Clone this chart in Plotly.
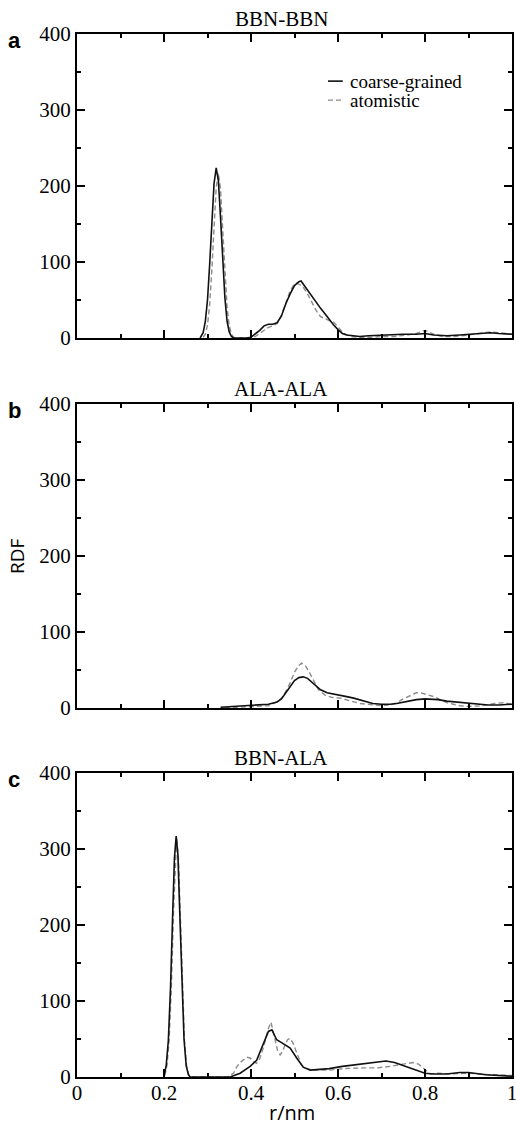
import plotly.graph_objects as go

# ---------------- data ----------------
panel_titles = ["BBN-BBN", "ALA-ALA", "BBN-ALA"]
panel_letters = ["a", "b", "c"]
x_tick_vals = [0, 0.2, 0.4, 0.6, 0.8, 1]
y_tick_vals = [0, 100, 200, 300, 400]

# panel a: BBN-BBN
a_cg_r = [0.283, 0.29, 0.295, 0.30, 0.305, 0.31, 0.315, 0.32, 0.325, 0.33,
          0.335, 0.34, 0.345, 0.35, 0.355, 0.36, 0.37, 0.38, 0.39, 0.40,
          0.41, 0.42, 0.43, 0.44, 0.45, 0.46, 0.47, 0.48, 0.49, 0.50,
          0.51, 0.515, 0.52, 0.53, 0.54, 0.55, 0.56, 0.57, 0.58, 0.59,
          0.60, 0.61, 0.62, 0.635, 0.65, 0.67, 0.70, 0.72, 0.75, 0.78,
          0.80, 0.82, 0.85, 0.88, 0.90, 0.93, 0.95, 0.97, 1.0]
a_cg_g = [0, 7, 22, 50, 97, 153, 203, 224, 207, 158,
          100, 53, 22, 8, 2, 0, 0, 0, 0, 1,
          5, 10, 16, 18, 18, 20, 29, 45, 58, 69,
          74, 75, 71, 63, 54, 46, 39, 32, 24, 17,
          11, 6, 4, 3, 2, 3, 4, 4, 5, 5,
          6, 4, 3, 4, 5, 6, 7, 6, 5]
a_at_r = [0.29, 0.295, 0.30, 0.305, 0.31, 0.315, 0.32, 0.325, 0.33, 0.335,
          0.34, 0.345, 0.35, 0.355, 0.36, 0.365, 0.38, 0.40, 0.41, 0.42,
          0.43, 0.44, 0.45, 0.46, 0.47, 0.48, 0.49, 0.50, 0.505, 0.51,
          0.52, 0.53, 0.54, 0.55, 0.56, 0.57, 0.58, 0.59, 0.60, 0.61,
          0.62, 0.63, 0.65, 0.68, 0.70, 0.73, 0.76, 0.78, 0.80, 0.82,
          0.84, 0.87, 0.90, 0.93, 0.95, 0.97, 1.0]
a_at_g = [1, 5, 17, 44, 90, 148, 198, 217, 196, 142,
          86, 41, 16, 5, 1, 0, 0, 0, 2, 6,
          11, 14, 16, 19, 30, 45, 62, 71, 72, 71,
          67, 58, 47, 36, 28, 25, 23, 21, 14, 8,
          4, 2, 1, 1, 2, 2, 4, 6, 10, 5,
          2, 2, 4, 6, 8, 7, 5]

# panel b: ALA-ALA
b_cg_r = [0.33, 0.36, 0.40, 0.44, 0.46, 0.47, 0.48, 0.49, 0.50, 0.51,
          0.52, 0.53, 0.54, 0.55, 0.56, 0.575, 0.59, 0.605, 0.62, 0.636,
          0.65, 0.666, 0.68, 0.70, 0.72, 0.735, 0.75, 0.766, 0.78, 0.80,
          0.83, 0.85, 0.87, 0.90, 0.92, 0.945, 0.97, 1.0]
b_cg_g = [1, 2, 4, 5, 8, 12, 20, 28, 36, 40,
          41, 39, 34, 28, 24, 20, 18, 17, 15, 13,
          11, 8, 6, 5, 5, 6, 8, 10, 11, 12,
          11, 9, 8, 6, 5, 4, 4, 5]
b_at_r = [0.34, 0.38, 0.42, 0.44, 0.46, 0.47, 0.48, 0.49, 0.50, 0.51,
          0.516, 0.525, 0.535, 0.545, 0.555, 0.57, 0.585, 0.605, 0.62, 0.636,
          0.65, 0.666, 0.68, 0.70, 0.72, 0.735, 0.75, 0.76, 0.77, 0.78,
          0.79, 0.805, 0.82, 0.835, 0.85, 0.865, 0.88, 0.90, 0.93, 0.96,
          0.98, 1.0]
b_at_g = [0, 1, 2, 3, 8, 13, 22, 33, 47, 56,
          59, 56, 46, 34, 24, 17, 14, 13, 11, 8,
          6, 5, 4, 3, 4, 7, 12, 15, 18, 20,
          20, 18, 15, 11, 7, 5, 3, 2, 3, 6,
          7, 5]

# panel c: BBN-ALA
c_cg_r = [0.20, 0.205, 0.21, 0.215, 0.22, 0.224, 0.228, 0.232, 0.236, 0.241,
          0.246, 0.251, 0.256, 0.26, 0.30, 0.34, 0.352, 0.375, 0.398, 0.413,
          0.428, 0.44, 0.448, 0.459, 0.474, 0.49, 0.505, 0.52, 0.536, 0.56,
          0.58, 0.61, 0.64, 0.67, 0.70, 0.71, 0.73, 0.75, 0.78, 0.80,
          0.82, 0.85, 0.88, 0.90, 0.94, 0.97, 1.0]
c_cg_g = [1, 15, 48, 118, 215, 288, 317, 292, 220, 122,
          50, 15, 3, 0, 0, 0, 0, 5, 14, 22,
          44, 60, 62, 49, 44, 38, 25, 13, 9, 10,
          11, 14, 16, 18, 20, 21, 19, 15, 10, 5,
          4, 4, 6, 6, 3, 2, 1]
c_at_r = [0.202, 0.207, 0.212, 0.217, 0.222, 0.226, 0.229, 0.233, 0.237, 0.242,
          0.247, 0.252, 0.257, 0.262, 0.30, 0.345, 0.36, 0.367, 0.375, 0.383,
          0.39, 0.398, 0.405, 0.413, 0.42, 0.428, 0.435, 0.44, 0.446, 0.45,
          0.455, 0.461, 0.467, 0.473, 0.478, 0.484, 0.49, 0.497, 0.503, 0.509,
          0.516, 0.524, 0.543, 0.56, 0.582, 0.612, 0.64, 0.66, 0.69, 0.72,
          0.75, 0.773, 0.785, 0.796, 0.812, 0.83, 0.86, 0.90, 0.95, 1.0]
c_at_g = [2, 16, 50, 120, 218, 288, 315, 290, 215, 118,
          48, 14, 3, 0, 0, 0, 5, 13, 19, 23,
          26, 25, 21, 18, 24, 38, 52, 64, 72, 62,
          46, 35, 29, 34, 42, 49, 51, 44, 35, 25,
          16, 12, 9, 9, 9, 11, 12, 12, 12, 14,
          17, 19, 17, 12, 4, 5, 4, 5, 3, 2]

series_names = ["coarse-grained", "atomistic"]

# ---------------- layout geometry ----------------
W, H = 516, 1130
ML, MR, MT, MB = 77, 4, 34, 53
PH = H - MT - MB
PW = W - ML - MR
panel_px = [(34, 338), (404, 708), (773, 1077)]  # top/bottom pixel rows


def ydom(top, bot):
    return [(H - MB - bot) / PH, (H - MB - top) / PH]


SERIF = "Liberation Serif"
SANS = "Open Sans"
CG_COLOR = "#111111"
AT_COLOR = "#8c8c8c"

fig = go.Figure()
data = [(a_cg_r, a_cg_g, a_at_r, a_at_g),
        (b_cg_r, b_cg_g, b_at_r, b_at_g),
        (c_cg_r, c_cg_g, c_at_r, c_at_g)]

for i, (cr, cg, ar, ag) in enumerate(data):
    k = "" if i == 0 else str(i + 1)
    fig.add_trace(go.Scatter(x=ar, y=ag, mode="lines", name=series_names[1],
                             line=dict(color=AT_COLOR, width=1.4, dash="5px,3px"),
                             xaxis="x" + k, yaxis="y" + k, showlegend=False))
    fig.add_trace(go.Scatter(x=cr, y=cg, mode="lines", name=series_names[0],
                             line=dict(color=CG_COLOR, width=1.6),
                             xaxis="x" + k, yaxis="y" + k, showlegend=False))

axis_common = dict(ticks="inside", tickwidth=2, tickcolor="black",
                   showline=True, linecolor="black", linewidth=2,
                   mirror="allticks", showgrid=False, zeroline=False,
                   automargin=False,
                   tickfont=dict(family=SERIF, size=21, color="black"))

layout = dict(width=W, height=H, margin=dict(l=ML, r=MR, t=MT, b=MB, autoexpand=False),
              paper_bgcolor="white", plot_bgcolor="white", showlegend=False)

for i, (top, bot) in enumerate(panel_px):
    k = "" if i == 0 else str(i + 1)
    layout["xaxis" + k] = dict(axis_common, domain=[0, 1], range=[0, 1],
                               tickvals=x_tick_vals, ticklen=8,
                               showticklabels=(i == 2),
                               ticklabeloverflow="allow",
                               ticklabelstandoff=-4,
                               minor=dict(dtick=0.1, ticks="inside", ticklen=4,
                                          tickwidth=1.5, tickcolor="black"),
                               anchor="y" + k)
    layout["yaxis" + k] = dict(axis_common, domain=ydom(top, bot), range=[0, 400],
                               tickvals=y_tick_vals, ticklen=8,
                               minor=dict(dtick=50, ticks="inside", ticklen=4,
                                          tickwidth=1.5, tickcolor="black"),
                               anchor="x" + k)

fig.update_layout(**layout)

ann = []
for i, (top, bot) in enumerate(panel_px):
    ann.append(dict(text=panel_titles[i], xref="paper", yref="paper",
                    x=(281 - ML) / PW, y=(H - MB - top) / PH, yshift=1,
                    xanchor="center", yanchor="bottom", showarrow=False,
                    font=dict(family=SERIF, size=21, color="black")))
    ann.append(dict(text="<b>" + panel_letters[i] + "</b>", xref="paper", yref="paper",
                    x=(6 - ML) / PW, y=(H - MB - top) / PH, yshift=-6,
                    xanchor="left", yanchor="middle", showarrow=False,
                    font=dict(family="Liberation Sans", size=22, color="black")))

ann.append(dict(text="RDF", xref="paper", yref="y2", x=(17 - ML) / PW, y=200,
                textangle=-90, xanchor="center", yanchor="middle", showarrow=False,
                font=dict(family=SANS, size=19, color="black")))
ann.append(dict(text="r/nm", xref="paper", yref="paper", x=(292 - ML) / PW,
                y=(H - MB - 1112) / PH, xanchor="center", yanchor="middle",
                showarrow=False, font=dict(family=SANS, size=20, color="black")))

# legend (panel a)
leg_y = [338, 313]
ann.append(dict(text=series_names[0], xref="x", yref="y", x=0.623, y=leg_y[0],
                xanchor="left", yanchor="middle", showarrow=False,
                font=dict(family=SERIF, size=19, color="black")))
ann.append(dict(text=series_names[1], xref="x", yref="y", x=0.623, y=leg_y[1],
                xanchor="left", yanchor="middle", showarrow=False,
                font=dict(family=SERIF, size=19, color="black")))
shapes = [
    dict(type="line", xref="x", yref="y", x0=0.577, x1=0.611, y0=leg_y[0], y1=leg_y[0],
         line=dict(color=CG_COLOR, width=1.6)),
    dict(type="line", xref="x", yref="y", x0=0.577, x1=0.611, y0=leg_y[1], y1=leg_y[1],
         line=dict(color=AT_COLOR, width=1.4, dash="5px,3px")),
]
fig.update_layout(annotations=ann, shapes=shapes)

# remove the page's default body margin so the figure sits at the window origin
fig.write_html("out.html", config={"displayModeBar": False},
               post_script="document.body.style.margin='0';document.body.style.padding='0';")
